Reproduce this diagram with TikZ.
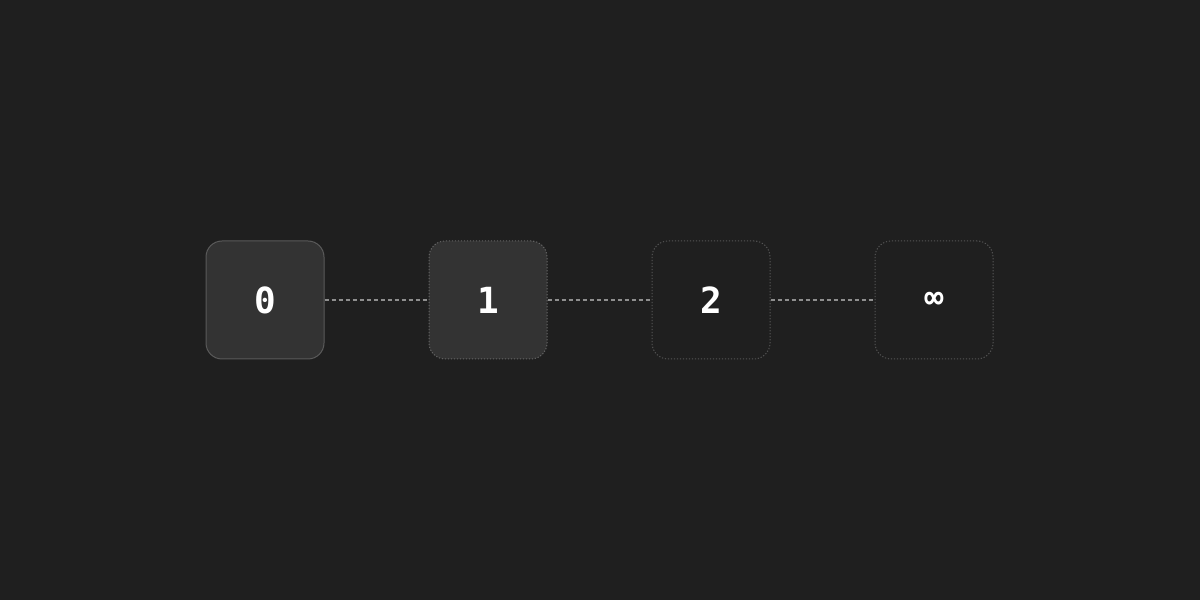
\documentclass[tikz,border=0pt]{standalone}
\usepackage{fontspec}
\newfontfamily\monofont{DejaVu Sans Mono}
\definecolor{bg}{HTML}{1F1F1F}
\definecolor{boxfill}{HTML}{333333}
\definecolor{solidborder}{HTML}{5A5A5A}
\definecolor{dotborder}{HTML}{666666}
\definecolor{dotborderdim}{HTML}{555555}
\definecolor{linkcol}{HTML}{8F8F8F}
\begin{document}
\begin{tikzpicture}[x=1pt,y=1pt,
  stage/.style={minimum width=118pt,minimum height=118pt,rounded corners=16pt,inner sep=0pt,
    text=white,font=\monofont\bfseries\fontsize{36}{36}\selectfont},
  current/.style={stage,fill=boxfill,draw=solidborder,line width=1pt},
  nextstage/.style={stage,fill=boxfill,draw=dotborder,line width=1pt,dash pattern=on 1.2pt off 1.8pt},
  future/.style={stage,fill=bg,draw=dotborderdim,line width=1pt,dash pattern=on 1.2pt off 1.8pt},
  link/.style={draw=linkcol,line width=1.3pt,dash pattern=on 4pt off 3pt}]
\fill[bg] (0,0) rectangle (1200,600);
\useasboundingbox (0,0) rectangle (1200,600);
\node[current] (s0) at (265,300) {0};
\node[nextstage] (s1) at (488,300) {1};
\node[future] (s2) at (711,300) {2};
\node[future,font=\monofont\bfseries\fontsize{32}{32}\selectfont] (sinf) at (934,300) {∞};
\draw[link] (s0.east) -- (s1.west);
\draw[link] (s1.east) -- (s2.west);
\draw[link] (s2.east) -- (sinf.west);
\end{tikzpicture}
\end{document}
